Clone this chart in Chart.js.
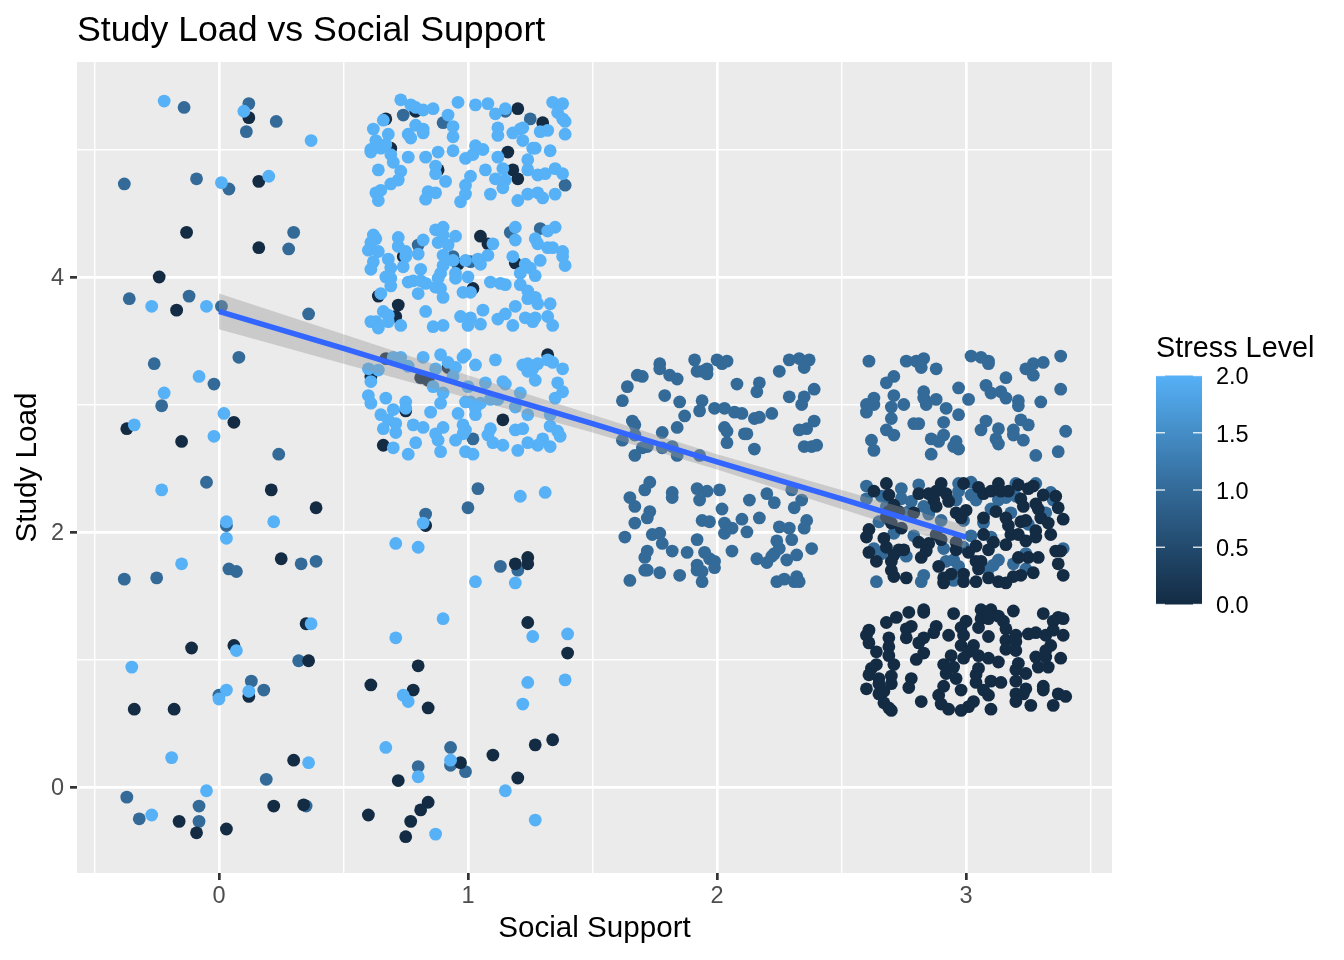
<!DOCTYPE html>
<html>
<head>
<meta charset="utf-8">
<style>
  body { margin: 0; background: #fff; }
  canvas { display: block; }
</style>
<script src="https://cdn.jsdelivr.net/npm/chart.js@4"></script>
</head>
<body>
<canvas id="chart" width="1344" height="960"></canvas>
<script>
// [social support, study load] (jittered values)
const stressHigh = [
  // support 0
  [-0.22,5.38],[0.10,5.30],[0.37,5.07],[0.20,4.79],[0.01,4.74],[-0.27,3.77],[-0.05,3.77],[-0.08,3.22],[-0.22,3.09],[0.02,2.93],[-0.34,2.84],[-0.02,2.75],[-0.23,2.33],[0.03,2.08],[0.22,2.08],[0.03,1.95],[-0.15,1.75],[0.37,1.28],[0.07,1.07],[-0.35,0.94],[0.03,0.76],[0.12,0.75],[0.00,0.69],[-0.19,0.23],[0.36,0.19],[-0.05,-0.03],[-0.27,-0.22],
  // support 1, load 0-2
  [1.21,2.28],[1.31,2.31],[0.82,2.07],[0.71,1.91],[0.80,1.88],[1.03,1.61],[1.19,1.60],[0.90,1.32],[0.71,1.17],[1.26,1.18],[1.40,1.20],[1.24,0.82],[1.39,0.84],[0.74,0.72],[0.76,0.67],[1.22,0.65],[0.67,0.31],[0.93,0.21],[0.80,0.08],[1.15,-0.03],[1.27,-0.26],[0.87,-0.37],
  // support 1, load 5
  [0.73,5.39],[0.77,5.35],[0.79,5.33],[0.82,5.31],[0.86,5.32],[0.96,5.37],[0.92,5.27],[1.03,5.35],[1.08,5.36],[1.11,5.28],[1.15,5.32],[1.34,5.37],[1.38,5.36],[1.36,5.29],[1.38,5.24],[1.39,5.22],[0.66,5.23],[0.62,5.16],[0.68,5.12],[0.63,5.07],[0.61,5.00],[0.61,4.98],[0.65,5.01],[0.67,5.04],[0.69,4.96],[0.70,4.90],[0.76,4.94],[0.64,4.84],[0.73,4.83],[0.72,4.76],[0.69,4.73],[0.65,4.68],[0.63,4.66],[0.64,4.60],[0.79,5.19],[0.76,5.12],[0.77,5.09],[0.82,5.16],[0.82,5.13],[0.83,4.94],[0.88,4.98],[0.94,4.99],[0.94,5.18],[0.94,5.10],[0.99,4.93],[1.02,4.96],[1.03,5.03],[1.06,5.00],[0.87,4.87],[0.87,4.81],[0.91,4.75],[1.01,4.79],[0.99,4.72],[0.99,4.65],[0.97,4.59],[1.07,4.84],[1.09,4.65],[0.84,4.67],[0.87,4.66],[0.83,4.61],[1.12,5.17],[1.12,5.11],[1.18,5.13],[1.21,5.16],[1.22,5.17],[1.22,5.07],[1.26,5.01],[1.27,5.01],[1.33,4.99],[1.29,5.14],[1.32,5.15],[1.39,5.12],[1.12,4.94],[1.14,4.85],[1.11,4.77],[1.15,4.76],[1.14,4.70],[1.24,4.92],[1.24,4.84],[1.28,4.80],[1.31,4.81],[1.35,4.85],[1.38,4.81],[1.20,4.60],[1.24,4.65],[1.28,4.66],[1.30,4.62],[1.35,4.65],
  // support 1, load 4
  [0.62,4.33],[0.63,4.30],[0.61,4.27],[0.60,4.21],[0.64,4.20],[0.62,4.12],[0.61,4.06],[0.68,4.14],[0.69,4.07],[0.72,4.31],[0.72,4.24],[0.75,4.20],[0.75,4.16],[0.74,4.08],[0.82,4.29],[0.80,4.18],[0.67,4.00],[0.69,3.99],[0.69,3.93],[0.76,3.96],[0.78,3.97],[0.81,4.06],[0.81,3.97],[0.83,3.95],[0.87,3.92],[0.89,3.91],[0.90,3.84],[0.80,3.87],[0.65,3.87],[0.87,4.37],[0.90,4.39],[0.88,4.27],[0.92,4.25],[0.95,4.32],[0.90,4.33],[0.90,4.17],[0.90,4.09],[0.89,4.03],[0.88,3.99],[0.94,4.13],[0.95,4.03],[0.95,3.99],[0.99,4.13],[1.04,4.14],[1.05,4.10],[1.08,4.17],[1.10,4.26],[1.00,4.00],[1.09,3.96],[1.13,3.95],[1.15,3.94],[0.98,3.88],[1.01,3.88],[1.19,4.39],[1.19,4.29],[1.27,4.30],[1.28,4.26],[1.35,4.39],[1.32,4.36],[1.32,4.23],[1.34,4.23],[1.38,4.20],[1.38,4.16],[1.39,4.09],[1.29,4.13],[1.18,4.16],[1.23,4.10],[1.25,4.07],[1.21,4.03],[1.27,4.01],[1.21,3.94],[1.24,3.89],[1.24,3.83],[1.27,3.84],[1.28,3.79],[1.33,3.79],[1.19,3.77],[1.15,3.71],[1.12,3.67],[1.18,3.62],[1.23,3.68],[1.26,3.65],[1.27,3.68],[1.32,3.69],[1.34,3.62],[0.83,3.73],[0.66,3.73],[0.68,3.70],[0.68,3.65],[0.61,3.65],[0.63,3.65],[0.64,3.60],[0.73,3.62],[0.86,3.61],[0.90,3.62],[0.97,3.69],[1.01,3.68],[1.00,3.62],[1.05,3.63],[1.06,3.74],
  // support 1, load 3
  [0.73,3.37],[0.70,3.37],[0.82,3.37],[0.89,3.39],[0.92,3.33],[0.95,3.29],[0.98,3.37],[0.99,3.39],[1.03,3.31],[1.11,3.35],[0.76,3.30],[0.87,3.28],[0.60,3.28],[0.64,3.27],[0.61,3.18],[0.94,3.22],[1.00,3.14],[1.07,3.17],[1.14,3.18],[1.15,3.16],[1.22,3.31],[1.24,3.32],[1.26,3.28],[1.28,3.32],[1.32,3.35],[1.34,3.33],[1.38,3.28],[1.24,3.26],[1.27,3.19],[1.36,3.17],[1.38,3.10],[1.35,3.05],[1.21,3.09],[0.60,3.07],[0.61,3.01],[0.67,3.05],[0.70,2.96],[0.75,3.02],[0.75,2.97],[0.86,3.14],[0.90,3.09],[0.89,3.01],[0.85,2.94],[0.99,3.02],[1.01,3.02],[1.05,3.01],[1.09,3.04],[1.12,3.04],[0.96,2.93],[1.03,2.92],[1.03,2.97],[1.19,2.98],[1.24,2.92],[1.33,2.92],[0.65,2.92],[0.68,2.88],[0.71,2.85],[0.66,2.81],[0.71,2.78],[0.78,2.84],[0.82,2.82],[0.90,2.82],[0.87,2.77],[0.88,2.72],[0.98,2.84],[0.99,2.80],[0.98,2.77],[0.95,2.72],[1.09,2.81],[1.08,2.76],[1.10,2.70],[1.14,2.68],[1.19,2.80],[1.22,2.81],[1.33,2.83],[1.36,2.79],[1.37,2.75],[1.30,2.73],[1.28,2.68],[1.33,2.67],[1.24,2.70],[1.20,2.64],[0.70,2.66],[0.79,2.70],[0.76,2.61],[0.89,2.63],[0.99,2.63],[1.02,2.61]
];

const stressMid = [
  // support 0
  [-0.14,5.33],[0.12,5.36],[0.23,5.22],[0.11,5.14],[-0.38,4.73],[-0.09,4.77],[0.04,4.69],[0.30,4.35],[0.28,4.22],[-0.36,3.83],[-0.12,3.85],[0.01,3.77],[0.36,3.71],[0.08,3.37],[-0.26,3.32],[-0.02,3.16],[-0.23,2.99],[0.24,2.61],[-0.05,2.39],[0.03,2.05],[0.04,1.71],[0.07,1.69],[0.33,1.75],[0.39,1.77],[-0.38,1.63],[-0.25,1.64],[0.32,0.99],[0.13,0.83],[0.18,0.76],[0.00,0.72],[0.19,0.06],[-0.37,-0.08],[-0.08,-0.15],[0.35,-0.15],[-0.32,-0.25],[-0.08,-0.27],
  // support 1
  [1.04,2.34],[1.00,2.19],[0.83,2.14],[1.13,1.73],[1.20,1.70],[0.93,0.31],[0.80,0.16],[0.93,0.17],[0.99,0.12],[0.74,5.27],[0.90,5.21],[1.15,5.30],[1.25,5.24],[1.39,4.72],[0.80,4.25],[0.94,4.16],[1.01,4.12],[1.17,4.35],[1.29,4.38],[1.02,2.73],
  // support 2
  [1.91,3.35],[2.00,3.35],[2.02,3.32],[2.04,3.34],[1.77,3.32],[1.77,3.28],[1.68,3.23],[1.70,3.22],[1.81,3.23],[1.84,3.20],[1.92,3.26],[1.94,3.26],[1.96,3.28],[1.96,3.24],[2.08,3.16],[2.17,3.17],[2.16,3.10],[2.25,3.26],[2.29,3.35],[2.33,3.36],[2.37,3.35],[2.35,3.29],[1.64,3.14],[1.62,3.03],[1.79,3.07],[1.85,3.02],[1.94,3.03],[1.93,2.95],[1.99,2.97],[2.03,2.97],[2.07,2.94],[2.10,2.93],[2.15,2.89],[2.17,2.90],[2.22,2.93],[2.29,3.06],[2.35,3.06],[2.34,3.00],[2.39,3.12],[1.87,2.91],[1.84,2.82],[1.66,2.87],[1.67,2.84],[1.78,2.78],[2.03,2.82],[2.04,2.79],[2.04,2.70],[2.11,2.77],[2.12,2.77],[2.15,2.65],[2.39,2.87],[2.36,2.81],[2.33,2.80],[2.35,2.67],[2.38,2.67],[2.40,2.68],[1.62,2.72],[1.67,2.76],[1.70,2.66],[1.72,2.67],[1.67,2.60],[1.78,2.66],[1.82,2.67],[1.84,2.60],[1.93,2.60],
  [1.73,2.39],[1.71,2.33],[1.82,2.31],[1.82,2.27],[1.65,2.27],[1.67,2.20],[1.73,2.16],[1.72,2.11],[1.67,2.07],[1.92,2.34],[1.96,2.32],[2.01,2.33],[1.93,2.25],[2.02,2.18],[2.13,2.25],[2.20,2.30],[2.23,2.23],[2.30,2.33],[2.34,2.25],[2.31,2.19],[1.94,2.09],[1.97,2.08],[2.03,2.07],[2.06,2.03],[2.10,2.10],[2.17,2.11],[2.03,1.99],[2.12,2.00],[2.25,2.04],[2.29,2.03],[2.36,2.09],[2.35,2.03],[1.63,1.96],[1.74,1.98],[1.77,1.99],[1.78,1.91],[1.92,1.94],[2.24,1.93],[2.30,1.94],[2.38,1.87],[1.72,1.85],[1.71,1.80],[1.82,1.85],[1.88,1.84],[1.95,1.84],[1.97,1.79],[2.06,1.85],[2.25,1.87],[2.23,1.83],[2.22,1.81],[2.32,1.82],[2.16,1.79],[2.20,1.76],[2.28,1.78],[1.99,1.77],[1.99,1.72],[1.92,1.74],[1.92,1.70],[1.94,1.69],[1.71,1.70],[1.72,1.70],[1.77,1.68],[1.85,1.66],[1.65,1.62],[1.94,1.61],[2.24,1.61],[2.27,1.63],[2.31,1.61],[2.32,1.65],[2.33,1.61],
  // support 3, load 3
  [2.61,3.34],[2.76,3.34],[2.80,3.34],[2.83,3.36],[2.82,3.29],[2.88,3.28],[3.02,3.38],[3.06,3.37],[3.09,3.34],[3.09,3.32],[3.27,3.32],[3.31,3.33],[3.24,3.28],[3.27,3.23],[3.38,3.38],[3.16,3.21],[2.71,3.22],[2.68,3.17],[3.38,3.12],[2.97,3.13],[3.08,3.15],[3.10,3.09],[3.14,3.10],[3.16,3.05],[2.71,3.07],[2.83,3.10],[2.83,3.05],[2.84,3.00],[2.88,3.04],[3.01,3.04],[3.21,3.03],[3.21,2.99],[3.30,3.02],[2.63,3.05],[2.63,3.00],[2.60,3.00],[2.60,2.94],[2.75,3.00],[2.70,2.98],[2.92,2.97],[2.97,2.92],[2.70,2.89],[2.79,2.85],[2.81,2.85],[2.91,2.86],[3.08,2.87],[3.06,2.80],[3.13,2.81],[3.22,2.88],[3.25,2.84],[3.19,2.80],[3.19,2.76],[3.40,2.79],[2.68,2.80],[2.71,2.76],[2.62,2.72],[2.63,2.64],[2.86,2.73],[2.89,2.71],[2.91,2.76],[2.96,2.71],[2.95,2.67],[2.97,2.65],[2.86,2.61],[3.12,2.73],[3.13,2.69],[3.23,2.72],[3.28,2.60],[3.37,2.63],
  // support 3, load 2
  [2.60,2.36],[2.60,2.26],[2.66,2.28],[2.74,2.34],[2.74,2.26],[2.78,2.24],[2.81,2.37],[2.83,2.20],[2.85,2.14],[2.97,2.38],[2.97,2.32],[2.96,2.25],[3.02,2.39],[3.02,2.29],[3.04,2.25],[2.68,2.20],[2.77,2.16],[2.65,2.08],[2.71,1.99],[2.79,1.97],[2.90,2.09],[2.99,2.09],[3.02,1.97],[2.91,1.87],[2.99,1.88],[3.10,1.96],[3.07,2.07],[3.10,2.18],[3.13,2.25],[3.16,2.27],[3.20,2.38],[3.20,2.28],[3.28,2.38],[3.18,2.15],[3.32,2.15],[3.34,2.31],[3.35,2.25],[3.25,2.06],[3.39,1.87],[2.63,1.87],[2.66,1.83],[2.76,1.81],[2.92,1.77],[2.95,1.78],[2.97,1.73],[3.13,1.78],[3.11,1.74],[3.09,1.71],[3.19,1.75],[3.24,1.83],[3.24,1.71],[2.64,1.61],[2.83,1.66],[2.82,1.61],[2.95,1.62]
];

const stressLow = [
  // support 0
  [0.12,5.25],[0.16,4.75],[-0.13,4.35],[0.16,4.23],[-0.24,4.00],[-0.17,3.74],[0.06,2.86],[-0.37,2.81],[-0.15,2.71],[0.21,2.33],[0.39,2.19],[0.25,1.79],[0.35,1.28],[-0.11,1.09],[0.06,1.11],[0.36,0.99],[0.12,0.71],[-0.34,0.61],[-0.18,0.61],[0.30,0.21],[0.22,-0.15],[0.34,-0.14],[-0.16,-0.27],[-0.09,-0.36],[0.03,-0.33],
  // support 1
  [0.83,2.05],[1.24,1.80],[1.24,1.75],[1.19,1.75],[1.24,1.29],[1.40,1.05],[0.80,0.95],[0.61,0.80],[0.78,0.76],[0.84,0.62],[1.34,0.37],[1.27,0.33],[1.10,0.25],[0.97,0.19],[1.20,0.07],[0.72,0.05],[0.84,-0.12],[0.81,-0.18],[0.60,-0.22],[0.77,-0.27],[0.75,-0.39],[0.67,5.24],[0.79,5.30],[1.20,5.32],[1.30,5.21],[0.69,5.01],[0.88,4.84],[1.16,4.98],[1.18,4.84],[1.20,4.77],[1.05,4.32],[1.08,4.26],[0.74,4.16],[0.96,4.10],[1.19,4.11],[1.02,3.91],[0.64,3.85],[0.72,3.78],[0.71,3.69],[0.67,3.36],[0.92,3.29],[0.81,3.21],[0.84,3.19],[1.32,3.39],[0.61,3.22],[0.75,2.95],[1.14,2.88],[0.66,2.68],
  // support 3, load 2
  [2.68,2.38],[2.63,2.32],[2.69,2.29],[2.81,2.30],[2.85,2.30],[2.90,2.38],[2.88,2.32],[2.87,2.25],[2.88,2.20],[2.92,2.30],[2.93,2.24],[2.96,2.15],[2.98,2.11],[3.00,2.17],[2.99,2.38],[3.05,2.35],[3.07,2.30],[3.10,2.32],[3.13,2.38],[3.14,2.32],[3.21,2.37],[3.17,2.32],[3.25,2.34],[3.27,2.36],[3.22,2.26],[3.23,2.20],[3.31,2.29],[3.28,2.22],[3.29,2.18],[3.36,2.28],[3.37,2.19],[3.39,2.10],[3.30,2.11],[3.33,2.07],[3.12,2.16],[3.07,2.11],[3.16,2.11],[3.17,2.05],[3.22,2.08],[3.24,2.09],[2.71,2.21],[2.69,2.16],[2.73,2.16],[2.79,2.15],[2.68,2.12],[2.70,2.07],[2.74,2.03],[2.61,2.02],[2.60,1.96],[2.67,1.95],[2.68,1.88],[2.73,1.86],[2.75,1.86],[2.61,1.84],[2.71,1.82],[2.64,1.77],[2.70,1.77],[2.70,1.70],[2.71,1.65],[2.76,1.64],[2.81,1.92],[2.85,1.91],[2.84,1.85],[2.82,1.80],[2.88,1.98],[2.90,1.94],[2.96,1.92],[2.96,1.86],[3.01,1.84],[3.04,1.89],[3.07,1.98],[3.11,1.92],[3.09,1.86],[3.16,1.90],[3.18,1.98],[3.24,1.93],[3.21,1.98],[3.28,2.01],[3.28,1.96],[3.34,1.98],[3.36,1.85],[3.38,1.85],[3.37,1.75],[3.39,1.66],[3.25,1.80],[3.29,1.80],[3.21,1.80],[3.27,1.68],[3.22,1.66],[3.19,1.65],[3.16,1.60],[3.13,1.61],[3.09,1.64],[3.04,1.77],[3.06,1.77],[3.05,1.71],[2.89,1.73],[2.94,1.67],[2.91,1.64],[2.91,1.60],[2.99,1.67],[2.99,1.61],[3.04,1.61],
  // support 3, load 1
  [2.83,1.39],[2.83,1.37],[2.77,1.37],[2.72,1.33],[2.68,1.29],[2.95,1.36],[3.06,1.39],[3.10,1.39],[3.06,1.32],[3.09,1.32],[3.13,1.34],[3.15,1.30],[3.19,1.38],[3.31,1.36],[3.37,1.33],[3.39,1.32],[3.35,1.30],[3.00,1.30],[2.98,1.25],[2.78,1.26],[2.76,1.24],[2.88,1.26],[2.87,1.21],[3.05,1.25],[3.16,1.24],[2.61,1.23],[2.60,1.19],[2.76,1.17],[2.83,1.17],[2.93,1.19],[2.99,1.19],[3.09,1.18],[3.20,1.19],[3.25,1.20],[3.28,1.21],[3.32,1.19],[3.35,1.23],[3.39,1.19],[2.69,1.17],[2.61,1.13],[2.81,1.13],[3.16,1.15],[3.20,1.14],[3.34,1.11],[2.69,1.10],[2.98,1.11],[3.03,1.11],[3.16,1.08],[3.20,1.07],[3.32,1.07],[2.64,1.06],[2.69,1.03],[2.83,1.05],[3.01,1.06],[2.94,1.03],[2.99,1.01],[3.05,1.03],[3.09,1.01],[3.13,0.98],[2.80,1.00],[3.28,1.02],[3.32,1.02],[3.38,1.01],[2.64,0.96],[2.71,0.96],[2.91,0.96],[2.95,0.94],[3.21,0.97],[3.29,0.94],[3.33,0.94],[2.62,0.93],[2.61,0.88],[2.70,0.87],[2.92,0.89],[2.96,0.85],[3.05,0.93],[3.04,0.88],[3.20,0.92],[3.24,0.89],[2.78,0.85],[2.65,0.85],[2.70,0.81],[2.65,0.81],[2.77,0.78],[3.04,0.82],[3.10,0.83],[3.14,0.82],[3.20,0.83],[2.60,0.77],[2.91,0.79],[2.98,0.76],[3.07,0.76],[3.24,0.77],[3.31,0.79],[3.31,0.76],[2.65,0.73],[2.67,0.75],[2.89,0.72],[3.09,0.72],[3.20,0.73],[3.23,0.73],[3.37,0.73],[3.40,0.71],[2.67,0.66],[2.82,0.67],[3.03,0.67],[3.20,0.67],[2.90,0.65],[3.01,0.63],[3.26,0.64],[3.35,0.64],[2.69,0.62],[2.70,0.60],[2.93,0.61],[2.98,0.60],[3.10,0.61]
];

// fitted line and its confidence band
const fitSupport = [0, 0.5, 1, 1.5, 2, 2.5, 3];
const fitLoad = [3.73, 3.44, 3.14, 2.85, 2.55, 2.26, 1.96];
const fitUpper = [3.87, 3.55, 3.23, 2.92, 2.61, 2.33, 2.05];
const fitLower = [3.59, 3.32, 3.05, 2.78, 2.49, 2.18, 1.87];

const xLabels = [0, 1, 2, 3];
const yLabels = [0, 2, 4];
const stressTicks = [0, 0.5, 1, 1.5, 2];

const DARK = '#132B43', MID = '#336A98', LIGHT = '#56B1F7';
const FONT = '"Liberation Sans", Arial, sans-serif';

const toPoints = (rows) => rows.map(r => ({ x: r[0], y: r[1] }));
const fitPoints = (vals) => fitSupport.map((x, i) => ({ x: x, y: vals[i] }));

const scatter = (label, rows, color, order) => ({
  type: 'scatter', label: label, data: toPoints(rows), order: order,
  backgroundColor: color, borderWidth: 0, pointRadius: 6.4, pointHoverRadius: 6.4
});

const panelBackground = {
  id: 'panelBackground',
  beforeDraw(chart) {
    const a = chart.chartArea, ctx = chart.ctx;
    ctx.save();
    ctx.fillStyle = '#EBEBEB';
    ctx.fillRect(a.left, a.top, a.right - a.left, a.bottom - a.top);
    ctx.restore();
  }
};

// colour bar legend
const colorBar = {
  id: 'colorBar',
  afterDraw(chart) {
    const ctx = chart.ctx;
    const left = 1156, width = 46, top = 375.5, bottom = 604.5;
    ctx.save();
    const g = ctx.createLinearGradient(0, bottom, 0, top);
    g.addColorStop(0, DARK);
    g.addColorStop(0.25, '#224A6D');
    g.addColorStop(0.5, MID);
    g.addColorStop(0.75, '#448DC6');
    g.addColorStop(1, LIGHT);
    ctx.fillStyle = g;
    ctx.fillRect(left, top, width, bottom - top);

    ctx.fillStyle = '#000';
    ctx.font = '28.8px ' + FONT;
    ctx.textAlign = 'left';
    ctx.textBaseline = 'alphabetic';
    ctx.fillText('Stress Level', left, 357);

    ctx.font = '23.5px ' + FONT;
    ctx.textBaseline = 'middle';
    stressTicks.forEach(v => {
      const y = bottom - (v / 2) * (bottom - top);
      ctx.fillStyle = 'rgba(255,255,255,0.85)';
      ctx.fillRect(left, y - 0.7, 9, 1.4);
      ctx.fillRect(left + width - 9, y - 0.7, 9, 1.4);
      ctx.fillStyle = '#000';
      ctx.fillText(v.toFixed(1), 1216, y + 2.5);
    });
    ctx.restore();
  }
};

const axisGrid = (labels) => ({
  color: '#fff',
  lineWidth: (c) => labels.includes(c.tick.value) ? 2.7 : 1.4,
  tickLength: 7,
  tickColor: '#333333',
  tickWidth: (c) => labels.includes(c.tick.value) ? 2.7 : 0
});

new Chart(document.getElementById('chart'), {
  type: 'scatter',
  data: {
    datasets: [
      {
        type: 'line', label: 'fit', data: fitPoints(fitLoad), order: 1,
        borderColor: '#3366FF', borderWidth: 5.5, pointRadius: 0, fill: false, tension: 0
      },
      {
        type: 'line', label: 'upper', data: fitPoints(fitUpper), order: 2,
        borderWidth: 0, pointRadius: 0, tension: 0,
        fill: { target: '+1' }, backgroundColor: 'rgba(153,153,153,0.4)'
      },
      {
        type: 'line', label: 'lower', data: fitPoints(fitLower), order: 3,
        borderWidth: 0, pointRadius: 0, tension: 0, fill: false
      },
      scatter('2', stressHigh, LIGHT, 4),
      scatter('0', stressLow, DARK, 5),
      scatter('1', stressMid, MID, 6)
    ]
  },
  options: {
    responsive: false,
    animation: false,
    layout: { padding: { right: 232 } },
    plugins: {
      legend: { display: false },
      tooltip: { enabled: false },
      title: {
        display: true, text: 'Study Load vs Social Support', align: 'start', fullSize: false,
        color: '#000', font: { family: FONT, size: 35.7, weight: 'normal', lineHeight: 1.2 },
        padding: { top: 10, bottom: 9.2 }
      }
    },
    scales: {
      x: {
        type: 'linear', min: -0.57, max: 3.586,
        afterFit: (s) => { s.height = 87; },
        border: { display: false },
        grid: axisGrid(xLabels),
        ticks: {
          stepSize: 0.5, includeBounds: false, autoSkip: false, maxRotation: 0, padding: 2,
          color: '#4D4D4D', font: { family: FONT, size: 23.5 },
          callback: (v) => xLabels.includes(v) ? String(v) : ''
        },
        title: {
          display: true, text: 'Social Support', color: '#000',
          font: { family: FONT, size: 29.6 }, padding: { top: 0, bottom: 13 }
        }
      },
      y: {
        type: 'linear', min: -0.675, max: 5.686,
        afterFit: (s) => { s.width = 77; },
        border: { display: false },
        grid: axisGrid(yLabels),
        ticks: {
          stepSize: 1, includeBounds: false, autoSkip: false, padding: 6, labelOffset: 1.5,
          color: '#4D4D4D', font: { family: FONT, size: 23.5 },
          callback: (v) => yLabels.includes(v) ? String(v) : ''
        },
        title: {
          display: true, text: 'Study Load', color: '#000',
          font: { family: FONT, size: 29.6 }, padding: { top: 10, bottom: 0 }
        }
      }
    }
  },
  plugins: [panelBackground, colorBar]
});
</script>
</body>
</html>
